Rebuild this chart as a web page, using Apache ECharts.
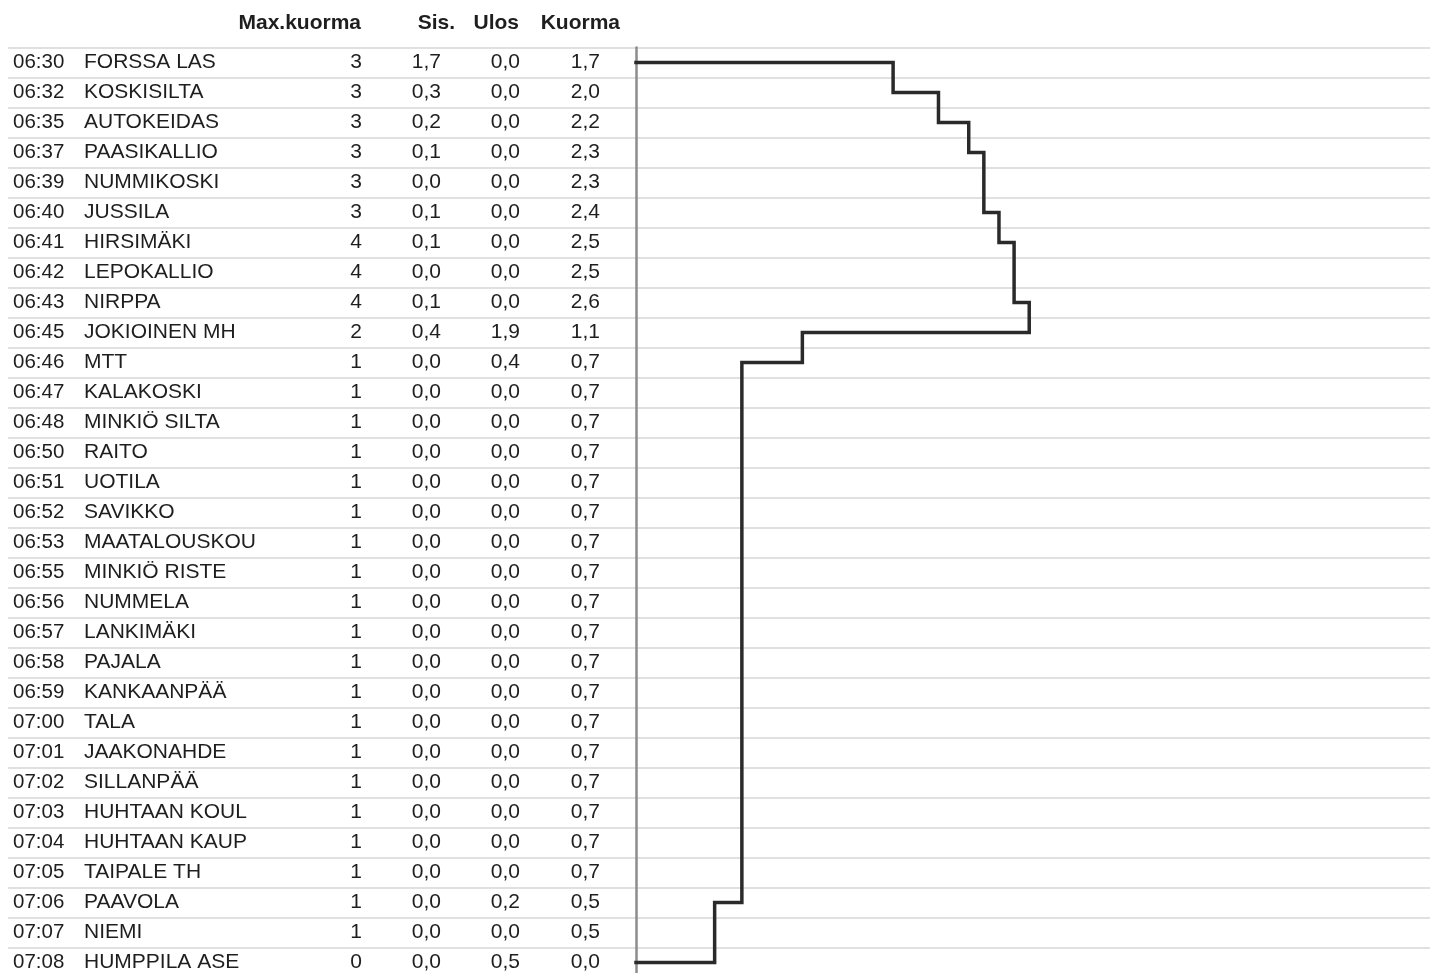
<!DOCTYPE html>
<html>
<head>
<meta charset="utf-8">
<script src="https://cdn.jsdelivr.net/npm/echarts@6/dist/echarts.min.js"></script>
<style>
html,body{margin:0;padding:0;background:#fff;overflow:hidden;}
#c{width:1430px;height:980px;}
</style>
</head>
<body>
<div id="c"></div>
<script>
// ---- data ----
var times = ['06:30','06:32','06:35','06:37','06:39','06:40','06:41','06:42','06:43','06:45','06:46','06:47','06:48','06:50','06:51','06:52','06:53','06:55','06:56','06:57','06:58','06:59','07:00','07:01','07:02','07:03','07:04','07:05','07:06','07:07','07:08'];
var stops = ['FORSSA LAS','KOSKISILTA','AUTOKEIDAS','PAASIKALLIO','NUMMIKOSKI','JUSSILA','HIRSIMÄKI','LEPOKALLIO','NIRPPA','JOKIOINEN MH','MTT','KALAKOSKI','MINKIÖ SILTA','RAITO','UOTILA','SAVIKKO','MAATALOUSKOU','MINKIÖ RISTE','NUMMELA','LANKIMÄKI','PAJALA','KANKAANPÄÄ','TALA','JAAKONAHDE','SILLANPÄÄ','HUHTAAN KOUL','HUHTAAN KAUP','TAIPALE TH','PAAVOLA','NIEMI','HUMPPILA ASE'];
var maxKuorma = [3,3,3,3,3,3,4,4,4,2,1,1,1,1,1,1,1,1,1,1,1,1,1,1,1,1,1,1,1,1,0];
var sis = ['1,7','0,3','0,2','0,1','0,0','0,1','0,1','0,0','0,1','0,4','0,0','0,0','0,0','0,0','0,0','0,0','0,0','0,0','0,0','0,0','0,0','0,0','0,0','0,0','0,0','0,0','0,0','0,0','0,0','0,0','0,0'];
var ulos = ['0,0','0,0','0,0','0,0','0,0','0,0','0,0','0,0','0,0','1,9','0,4','0,0','0,0','0,0','0,0','0,0','0,0','0,0','0,0','0,0','0,0','0,0','0,0','0,0','0,0','0,0','0,0','0,0','0,2','0,0','0,5'];
var kuorma = ['1,7','2,0','2,2','2,3','2,3','2,4','2,5','2,5','2,6','1,1','0,7','0,7','0,7','0,7','0,7','0,7','0,7','0,7','0,7','0,7','0,7','0,7','0,7','0,7','0,7','0,7','0,7','0,7','0,5','0,5','0,0'];
// load level as drawn by the step line
var kuormaLine = [1.7,2.0,2.2,2.3,2.3,2.4,2.5,2.5,2.6,1.1,0.7,0.7,0.7,0.7,0.7,0.7,0.7,0.7,0.7,0.7,0.7,0.7,0.7,0.7,0.7,0.7,0.7,0.7,0.52,0.52,0.0];
var headers = ['Max.kuorma','Sis.','Ulos','Kuorma'];

// ---- build step path points ----
var pts = [[0, 0]];
for (var i = 0; i < kuormaLine.length; i++) {
  pts.push([kuormaLine[i], i]);
  if (i + 1 < kuormaLine.length) pts.push([kuormaLine[i], i + 1]);
}

var FONT = 'Liberation Sans, Arial, sans-serif';
var TXT = '#1e1e1e';
var SPLIT = '#d6d6d6';
var FS = 21;

function labelAxis(arr, margin, align) {
  return {
    type: 'category', gridIndex: 1, position: 'left', inverse: true,
    data: times, boundaryGap: true,
    axisLine: {show: false}, axisTick: {show: false}, splitLine: {show: false},
    axisLabel: {
      show: true, margin: margin, align: align, interval: 0,
      color: TXT, fontFamily: FONT, fontSize: FS,
      formatter: function (v, idx) { return String(arr[idx]); }
    }
  };
}

var chart = echarts.init(document.getElementById('c'), null, {renderer: 'canvas'});
chart.setOption({
  animation: false,
  backgroundColor: '#fff',
  grid: [
    {left: 8, top: 47.5, width: 628, height: 930},
    {left: 636, top: 47.5, right: 0, height: 930}
  ],
  xAxis: [
    {type: 'value', gridIndex: 0, show: false, min: 0, max: 1},
    {type: 'value', gridIndex: 1, min: 0, max: 5.25, show: true,
     axisLine: {show: false}, axisTick: {show: false}, axisLabel: {show: false}, splitLine: {show: false}}
  ],
  yAxis: [
    {type: 'category', gridIndex: 0, inverse: true, data: times, boundaryGap: true,
     axisLine: {show: false}, axisTick: {show: false}, axisLabel: {show: false},
     splitLine: {show: true, interval: 0, lineStyle: {color: SPLIT, width: 1.5}}},
    {type: 'category', gridIndex: 1, position: 'left', inverse: true, data: times, boundaryGap: true,
     axisLine: {show: true, lineStyle: {color: '#8c8c8c', width: 2.5}},
     axisTick: {show: false},
     splitLine: {show: true, interval: 0, lineStyle: {color: SPLIT, width: 1.5}},
     axisLabel: {show: true, margin: 623, align: 'left', interval: 0, color: TXT, fontFamily: FONT, fontSize: 20.5}},
    labelAxis(stops, 552, 'left'),
    labelAxis(maxKuorma, 274, 'right'),
    labelAxis(sis, 195, 'right'),
    labelAxis(ulos, 116, 'right'),
    labelAxis(kuorma, 36, 'right')
  ],
  graphic: [
    {type: 'text', right: 1430 - 361, top: 13, style: {text: headers[0], font: 'bold ' + FS + 'px ' + FONT, fill: TXT, textAlign: 'right'}},
    {type: 'text', right: 1430 - 455, top: 13, style: {text: headers[1], font: 'bold ' + FS + 'px ' + FONT, fill: TXT, textAlign: 'right'}},
    {type: 'text', right: 1430 - 519, top: 13, style: {text: headers[2], font: 'bold ' + FS + 'px ' + FONT, fill: TXT, textAlign: 'right'}},
    {type: 'text', right: 1430 - 620, top: 13, style: {text: headers[3], font: 'bold ' + FS + 'px ' + FONT, fill: TXT, textAlign: 'right'}}
  ],
  series: [{
    type: 'line', xAxisIndex: 1, yAxisIndex: 1,
    data: pts, showSymbol: false, symbol: 'none',
    lineStyle: {color: '#2a2a2a', width: 3.5, join: 'miter', cap: 'square'},
    silent: true
  }]
});
</script>
</body>
</html>
